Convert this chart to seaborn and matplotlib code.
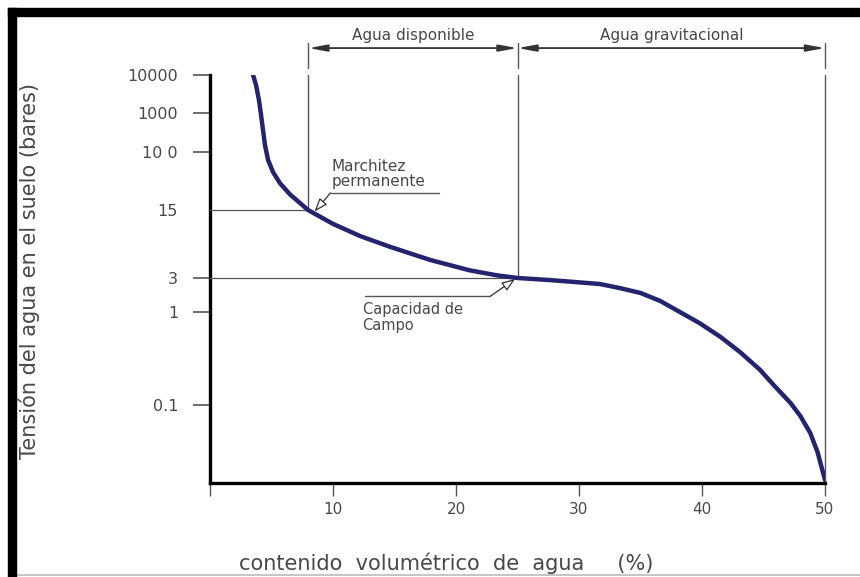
import numpy as np
import pandas as pd
import seaborn as sns
import matplotlib
matplotlib.use("Agg")
import matplotlib.pyplot as plt
from matplotlib.patches import Rectangle
from matplotlib.transforms import blended_transform_factory

# curva de retención: contenido volumétrico (%) vs tensión (bares)
contenido = [3.5, 3.74, 3.98, 4.15, 4.31, 4.47, 4.72, 5.12, 5.69, 6.5, 7.32, 7.97,
             10.0, 12.2, 14.6, 17.9, 21.1, 23.3, 25.0,
             27.6, 29.6, 31.7, 33.3, 35.0, 36.6, 38.2, 39.8, 41.5, 43.1, 44.7,
             45.9, 47.2, 48.0, 48.8, 49.4, 50.0]
tension = [10000, 5460, 2200, 890, 366, 151, 77, 52, 36, 25, 18.8, 15,
           10.8, 8.1, 6.3, 4.6, 3.6, 3.2, 3.0,
           2.81, 2.64, 2.47, 2.17, 1.85, 1.43, 1.0, 0.76, 0.54, 0.37, 0.24,
           0.16, 0.105, 0.076, 0.050, 0.031, 0.0156]

y_ticks = [10000, 1000, 100, 15, 3, 1, 0.1]
y_tick_labels = ["10000", "1000", "10 0", "15", "3", "1", "0.1"]
x_ticks = [0, 10, 20, 30, 40, 50]
x_tick_labels = ["", "10", "20", "30", "40", "50"]

marchitez = 8.0      # punto de marchitez permanente (%)
capacidad = 25.0     # capacidad de campo (%)
saturacion = 50.0

# escala vertical esquemática del dibujo (no uniforme)
scale_logs = [-2.0, -1.0, 0.0, np.log10(3), np.log10(15), 2.0, 3.0, 4.0]
scale_pos = [-15, 78, 171, 205, 273, 331, 370, 408]


def fwd(v):
    v = np.clip(np.asarray(v, dtype=float), 1e-6, None)
    return np.interp(np.log10(v), scale_logs, scale_pos)


def inv(p):
    return 10 ** np.interp(p, scale_pos, scale_logs)


sns.set_style("white")
plt.rcParams["font.family"] = ["DejaVu Sans"]
txt_color = "#484848"
line_gray = "#555555"

fig = plt.figure(figsize=(8.6, 5.77), dpi=100)
ax = fig.add_axes([210 / 860, 94 / 577, 615 / 860, 408 / 577])

df = pd.DataFrame({"contenido": contenido, "tension": tension})
ax.set_yscale("function", functions=(fwd, inv))
sns.lineplot(data=df, x="contenido", y="tension", sort=False, estimator=None,
             color="#23236e", lw=3.2, ax=ax, zorder=5)

ax.set_xlim(0, 50)
ax.set_ylim(inv(0), 10000)
ax.set_xticks(x_ticks)
ax.set_xticklabels(x_tick_labels)
ax.set_yticks(y_ticks)
ax.set_yticklabels(y_tick_labels)
ax.minorticks_off()

for s in ["top", "right"]:
    ax.spines[s].set_visible(False)
for s in ["left", "bottom"]:
    ax.spines[s].set_linewidth(2.4)
    ax.spines[s].set_color("black")

ax.tick_params(axis="y", direction="out", length=12, width=1.2, color=line_gray,
               pad=11, labelsize=11.5, labelcolor=txt_color, left=True)
ax.tick_params(axis="x", direction="out", length=9, width=1.0, color=line_gray,
               pad=5, labelsize=11, labelcolor=txt_color, bottom=True)
ax.yaxis.get_major_ticks()[3].tick1line.set_visible(False)

ax.set_xlabel("contenido  volumétrico  de  agua     (%)", fontsize=15, color=txt_color)
ax.xaxis.set_label_coords(0.384, -0.17)
ax.set_ylabel("Tensión del agua en el suelo (bares)", fontsize=15, color=txt_color)
ax.yaxis.set_label_coords(-0.276, 0.52)

# líneas de referencia
ax.plot([0, marchitez], [15, 15], color=line_gray, lw=0.9, zorder=3)
ax.plot([0, capacidad], [3, 3], color=line_gray, lw=0.9, zorder=3)

trans = blended_transform_factory(ax.transData, ax.transAxes)


def frac(x, v):
    return ax.transAxes.inverted().transform(ax.transData.transform((x, v)))[1]


top = 1.078
for x, v in [(marchitez, 15), (capacidad, 3), (saturacion, inv(0))]:
    ax.plot([x, x], [top, 1.018], transform=trans, color=line_gray, lw=1.0, clip_on=False)
    ax.plot([x, x], [1.0, frac(x, v)], transform=trans, color=line_gray, lw=1.0,
            clip_on=False, zorder=2)

# cotas superiores
dim_y = 1.066
for a, b, label in [(marchitez, capacidad, "Agua disponible"),
                    (capacidad, saturacion, "Agua gravitacional")]:
    ax.annotate("", xy=(a, dim_y), xytext=(b, dim_y), xycoords=trans, textcoords=trans,
                arrowprops=dict(arrowstyle="<|-|>,head_length=1.1,head_width=0.2",
                                color="#333333", lw=1.3, shrinkA=0, shrinkB=0),
                annotation_clip=False)
    ax.text((a + b) / 2, dim_y + 0.012, label, transform=trans, ha="center", va="bottom",
            fontsize=11, color=txt_color)

# Marchitez permanente
ax.text(9.9, 0.757, "Marchitez\npermanente", transform=trans, ha="left", va="center",
        fontsize=11, color=txt_color, linespacing=0.95)
ax.plot([9.8, 18.6], [0.711, 0.711], transform=trans, color=line_gray, lw=1.0, clip_on=False)
ax.annotate("", xy=(8.5, 14.5), xycoords="data", xytext=(9.8, 0.711), textcoords=trans,
            arrowprops=dict(arrowstyle="-|>,head_length=0.8,head_width=0.3",
                            fc="white", ec="#333333", lw=0.9, shrinkA=0, shrinkB=0))

# Capacidad de campo
ax.text(12.4, 0.405, "Capacidad de\nCampo", transform=trans, ha="left", va="center",
        fontsize=10.5, color=txt_color, linespacing=1.05)
ax.plot([12.6, 22.8], [0.458, 0.458], transform=trans, color=line_gray, lw=1.0, clip_on=False)
ax.annotate("", xy=(24.8, 2.9), xycoords="data", xytext=(22.8, 0.458), textcoords=trans,
            arrowprops=dict(arrowstyle="-|>,head_length=0.8,head_width=0.3",
                            fc="white", ec="#333333", lw=0.9, shrinkA=0, shrinkB=0))

# marco negro de la lámina
fig.add_artist(Rectangle((8 / 860, 0), 8 / 860, 569 / 577, transform=fig.transFigure,
                         color="black", zorder=10))
fig.add_artist(Rectangle((8 / 860, 561 / 577), 852 / 860, 8 / 577, transform=fig.transFigure,
                         color="black", zorder=10))
fig.add_artist(plt.Line2D([16 / 860, 1], [2 / 577, 2 / 577], transform=fig.transFigure,
                          color="#bbbbbb", lw=1.2))

fig.savefig("out.png", dpi=100)
